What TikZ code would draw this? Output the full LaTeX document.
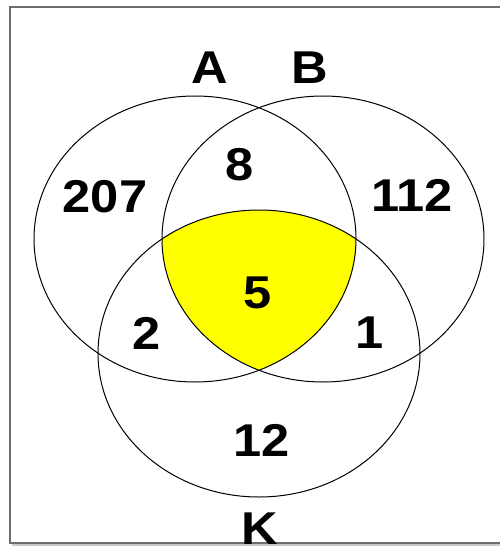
\documentclass[tikz,border=0pt]{standalone}
\usepackage{fontspec}
\setmainfont[FakeStretch=1.1]{Liberation Sans}
\usetikzlibrary{positioning}
\definecolor{Frame}{HTML}{6E6E6E}
\definecolor{Shade}{HTML}{C8C8C8}
\definecolor{Core}{HTML}{FFFF00}
\tikzset{
  setline/.style={draw=black,line width=1pt},
  framebox/.style={draw=Frame,line width=1.6pt},
  setname/.style={font=\fontsize{46}{46}\bfseries\selectfont,text=black,inner sep=0pt},
  count/.style={font=\fontsize{46}{46}\bfseries\selectfont,text=black,inner sep=0pt}
}

\begin{document}
\begin{tikzpicture}[x=1pt,y=-1pt]
  \useasboundingbox (0,0) rectangle (500,546);
  % frame
  \draw[Shade,line width=2pt] (12,545) -- (500,545);
  \draw[framebox] (500,7) -- (10,7) -- (10,543) -- (500,543);
  % centres
  \coordinate (a) at (195,239);
  \coordinate (b) at (323,239);
  \coordinate (k) at (259,353.5);
  % A and B and K
  \begin{scope}
    \clip (a) ellipse [x radius=161,y radius=143];
    \clip (b) ellipse [x radius=161,y radius=143];
    \fill[Core] (k) ellipse [x radius=161,y radius=143.5];
  \end{scope}
  \draw[setline] (a) ellipse [x radius=161,y radius=143];
  \draw[setline] (b) ellipse [x radius=161,y radius=143];
  \draw[setline] (k) ellipse [x radius=161,y radius=143.5];
  % names
  \node[setname] (nameA) at (210,68) {A};
  \node[setname] (nameB) at (310,68) {B};
  \node[setname] (nameK) at (260,529) {K};
  % counts
  \node[count] (onlyA) at (105,197) {207};
  \node[count] (ab) at (240,165) {8};
  \node[count] (onlyB) at (412,195) {112};
  \node[count] (abk) at (258,293) {5};
  \node[count] (ak) at (147,333) {2};
  \node[count] (bk) at (370,333) {1};
  \node[count] (onlyK) at (262,440) {12};
\end{tikzpicture}
\end{document}
